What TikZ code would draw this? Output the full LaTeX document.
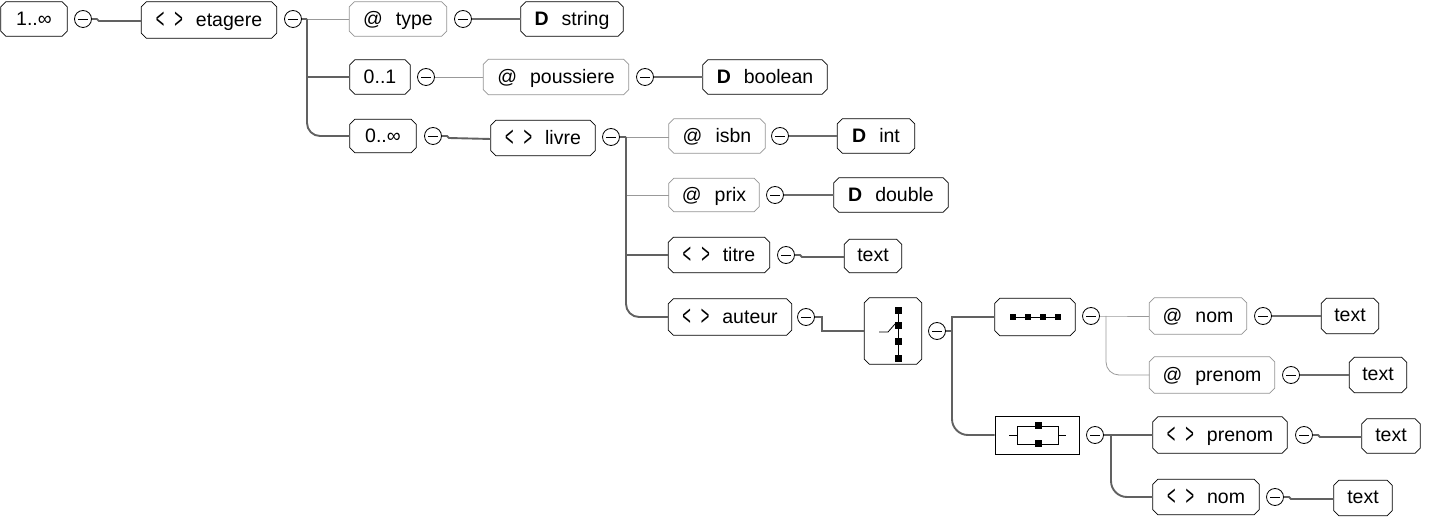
\documentclass[tikz,border=0pt]{standalone}
\usepackage{fontspec}
\usepackage{graphicx}
\setmainfont{Liberation Sans}
\newcommand\diafont{\fontsize{19.5}{22}\selectfont}
\newcommand\gap{\hspace{13pt}}
\newcommand\chev[1]{\raisebox{-1.5pt}{\scalebox{0.75}[1.45]{#1}}}
\newcommand\ang{\chev{<}\hspace{10pt}\chev{>}\gap}
\newcommand\infsym{\char"221E\relax}
\newcommand\chamfbox[2]{\draw[#2] ([xshift=5pt]#1.north west) -- ([xshift=-5pt]#1.north east) -- ([yshift=-5pt]#1.north east) -- ([yshift=5pt]#1.south east) -- ([xshift=-5pt]#1.south east) -- ([xshift=5pt]#1.south west) -- ([yshift=5pt]#1.south west) -- ([yshift=-5pt]#1.north west) -- cycle;}
\tikzset{
  base/.style={rectangle, inner sep=0pt, font=\diafont, text=black, text depth=1pt},
  elem/.style={base},
  attr/.style={base},
  comp/.style={base},
  eline/.style={draw=black, line width=0.8pt},
  aline/.style={draw=black!42, line width=0.8pt},
  choicebox/.style={rectangle, draw=black, line width=0.8pt, inner sep=0pt},
  minus/.style={circle, draw=black, line width=0.8pt, minimum size=17pt, inner sep=0pt,
    path picture={\draw[line width=0.8pt] ([xshift=-5pt]path picture bounding box.center) -- ([xshift=5pt]path picture bounding box.center);}},
  elink/.style={draw=black!62, line width=1.9pt},
  tlink/.style={draw=black!58, line width=2.2pt},
  alink/.style={draw=black!40, line width=0.8pt},
  ico/.style={draw=black, line width=0.8pt}
}
\begin{document}
\begin{tikzpicture}[x=1pt,y=-1pt]
\useasboundingbox (0,0) rectangle (1430,526);
% nodes
\node[elem, minimum width=66pt, minimum height=34pt] (one) at (34,19) {1..\infsym};
\node[minus] (m1) at (83,19) {};
\node[elem, minimum width=135pt, minimum height=36pt] (etagere) at (209,20) {\ang etagere};
\node[minus] (m2) at (293,19) {};
\node[attr, minimum width=97pt, minimum height=34pt] (type) at (398,19) {@\gap type};
\node[minus] (m3) at (463,19) {};
\node[elem, minimum width=102pt, minimum height=34pt] (string) at (572,19) {\textbf{D}\gap string};
\node[elem, minimum width=60pt, minimum height=34pt] (n01) at (380,77) {0..1};
\node[minus] (m4) at (426,77) {};
\node[attr, minimum width=145pt, minimum height=35pt] (pouss) at (556,77) {@\gap poussiere};
\node[minus] (m5) at (645,77) {};
\node[elem, minimum width=124pt, minimum height=34pt] (bool) at (765,77) {\textbf{D}\gap boolean};
\node[elem, minimum width=66pt, minimum height=33pt] (n0inf) at (383,136) {0..\infsym};
\node[minus] (m6) at (433,136) {};
\node[elem, minimum width=104pt, minimum height=35pt] (livre) at (543,138) {\ang livre};
\node[minus] (m7) at (611,137) {};
\node[attr, minimum width=96pt, minimum height=34pt] (isbn) at (717,136) {@\gap isbn};
\node[minus] (m8) at (780,136) {};
\node[elem, minimum width=77pt, minimum height=34pt] (int) at (876,136) {\textbf{D}\gap int};
\node[attr, minimum width=90pt, minimum height=33pt] (prix) at (714,195) {@\gap prix};
\node[minus] (m9) at (775,195) {};
\node[elem, minimum width=114pt, minimum height=34pt] (double) at (891,195) {\textbf{D}\gap double};
\node[elem, minimum width=101pt, minimum height=35pt] (titre) at (719,255) {\ang titre};
\node[minus] (m10) at (786,255) {};
\node[elem, minimum width=57pt, minimum height=33pt] (text1) at (873,256) {text};
\node[elem, minimum width=123pt, minimum height=36pt] (auteur) at (730,317) {\ang auteur};
\node[minus] (m11) at (806,317) {};
\node[comp, minimum width=57pt, minimum height=66pt] (seqA) at (893,331) {};
\node[minus] (m12) at (937,331) {};
\node[comp, minimum width=80pt, minimum height=37pt] (seqB) at (1035,317) {};
\node[minus] (m13) at (1091,316) {};
\node[attr, minimum width=97pt, minimum height=36pt] (anom) at (1198,316) {@\gap nom};
\node[minus] (m14) at (1263,316) {};
\node[elem, minimum width=57pt, minimum height=35pt] (text2) at (1350,316) {text};
\node[attr, minimum width=125pt, minimum height=36pt] (apren) at (1212,375) {@\gap prenom};
\node[minus] (m15) at (1291,375) {};
\node[elem, minimum width=57pt, minimum height=35pt] (text3) at (1378,375) {text};
\node[choicebox, minimum width=84pt, minimum height=38pt] (choice) at (1037,435) {};
\node[minus] (m16) at (1095,435) {};
\node[elem, minimum width=134pt, minimum height=36pt] (eprenom) at (1220,435) {\ang prenom};
\node[minus] (m17) at (1304,435) {};
\node[elem, minimum width=58pt, minimum height=34pt] (text4) at (1391,436) {text};
\node[elem, minimum width=106pt, minimum height=35pt] (enom) at (1206,497) {\ang nom};
\node[minus] (m18) at (1275,497) {};
\node[elem, minimum width=58pt, minimum height=35pt] (text5) at (1363,498) {text};
% chamfered outlines
\foreach \n in {one,etagere,string,n01,bool,n0inf,livre,int,double,titre,text1,auteur,seqA,seqB,text2,text3,eprenom,text4,enom,text5}
  {\chamfbox{\n}{eline}}
\foreach \n in {type,pouss,isbn,prix,anom,apren}
  {\chamfbox{\n}{aline}}
% compositor icons
\begin{scope}[shift={(seqA.center)}]
  \draw[ico] (5,-20) -- (5,28);
  \foreach \yy in {-20,-5,11,28} \fill (1.5,\yy-3.5) rectangle (8.5,\yy+3.5);
  \draw[ico] (-14,1) -- (-5,1) -- (2,-7);
\end{scope}
\begin{scope}[shift={(seqB.center)}]
  \draw[ico] (-24,0) -- (24,0);
  \foreach \xx in {-22,-7,8,23} \fill (\xx-3,-3) rectangle (\xx+3,3);
\end{scope}
\begin{scope}[shift={(choice.center)}]
  \draw[ico] (-28,0) -- (-20,0) (21,0) -- (29,0);
  \draw[ico] (-20,-9) rectangle (21,9);
  \fill (-2.5,-12.5) rectangle (4.5,-5.5);
  \fill (-2.5,5.5) rectangle (4.5,12.5);
\end{scope}
% trunk coordinates
\coordinate (t1) at (307,19);
\coordinate (t2) at (626,137);
\coordinate (t3) at (952,331);
\coordinate (t4) at (1106,316);
\coordinate (t5) at (1111,435);
% connectors
\draw[elink] (m1.east) -- ++(5,0) -- ++(2,2) -- (etagere.west |- 0,21);
\draw[alink] (t1) -- (type.west);
\draw[elink] (m2.east) -- (t1);
\draw[elink] (t1) |- (n01.west);
\draw[elink, rounded corners=13pt] (t1) |- (n0inf.west);
\draw[tlink] (m3.east) -- (string.west);
\draw[alink] (m4.east) -- (pouss.west);
\draw[tlink] (m5.east) -- (bool.west);
\draw[elink] (m6.east) -- ++(5,0) -- ++(2,2) -- (livre.west |- 0,139);
\draw[alink] (t2) -- (isbn.west |- t2);
\draw[alink] (t2 |- prix.west) -- (prix.west);
\draw[elink] (m7.east) -- (t2);
\draw[elink] (t2) |- (titre.west);
\draw[elink, rounded corners=13pt] (t2) |- (auteur.west);
\draw[tlink] (m8.east) -- (int.west);
\draw[tlink] (m9.east) -- (double.west);
\draw[elink] (m10.east) -- ++(5,0) -- ++(2,2) -- (text1.west |- 0,257);
\draw[elink] (m11.east) -- (822,317) -- (822,331) -- (seqA.west);
\draw[elink] (m12.east) -- (t3);
\draw[elink] (t3) |- (seqB.west);
\draw[elink, rounded corners=16pt] (t3) |- (choice.west);
\draw[alink] (m13.east) -- (t4) -- (anom.west);
\draw[alink, rounded corners=13pt] (t4) |- (apren.west);
\draw[tlink] (m14.east) -- (text2.west);
\draw[tlink] (m15.east) -- (text3.west);
\draw[elink] (m16.east) -- (t5) -- (eprenom.west);
\draw[elink, rounded corners=16pt] (t5) |- (enom.west);
\draw[elink] (m17.east) -- ++(5,0) -- ++(2,2) -- (text4.west |- 0,437);
\draw[elink] (m18.east) -- ++(5,0) -- ++(2,2) -- (text5.west |- 0,499);
\end{tikzpicture}
\end{document}
